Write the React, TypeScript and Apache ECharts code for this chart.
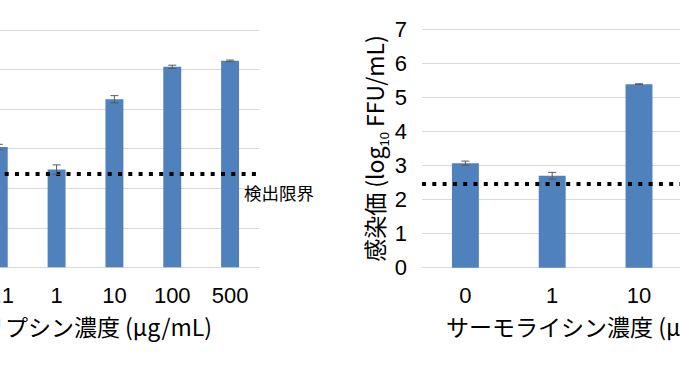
import React, { useEffect, useRef } from "react";
import * as echarts from "echarts";

// ---- data ----
const trypsinCategories = ["0", "0.1", "1", "10", "100", "500"];
const trypsinValues = [3.1, 3.04, 2.47, 4.25, 5.07, 5.22];
const trypsinErrors = [0.05, 0.07, 0.12, 0.09, 0.04, 0.02];
const trypsinLimit = 2.36;
const trypsinTitle = "トリプシン濃度 (μg/mL)";

const thermoCategories = ["0", "1", "10", "100"];
const thermoValues = [3.07, 2.7, 5.39, 6.0];
const thermoErrors = [0.06, 0.1, 0.01, 0.02];
const thermoLimit = 2.46;
const thermoTitle = "サーモライシン濃度 (μg/mL)";

const limitLabel = "検出限界";
const yAxisTitle = "{m|感染価 (log}{sub|10}{m| FFU/mL)}";

// ---- layout ----
const OFF = 120;
const CHART_W = 920;
const FONT = "'Liberation Sans', Arial, 'Noto Sans CJK JP', sans-serif";
const CJK = "'Noto Sans CJK JP', 'Liberation Sans', sans-serif";
const BAR = "#4f81bd";
const GRID_LINE = "#d9d9d9";

function errorSeries(idx: number, vals: number[], errs: number[]) {
  return {
    type: "custom",
    xAxisIndex: idx,
    yAxisIndex: idx,
    z: 10,
    silent: true,
    data: vals.map((v, i) => [i, v - errs[i], v + errs[i]]),
    encode: { x: 0, y: [1, 2] },
    renderItem: (params: any, api: any) => {
      const x = api.value(0);
      const lo = api.coord([x, api.value(1)]);
      const hi = api.coord([x, api.value(2)]);
      const hw = 4;
      const style = { stroke: "#595959", lineWidth: 1, fill: null };
      return {
        type: "group",
        children: [
          { type: "line", shape: { x1: lo[0], y1: hi[1], x2: lo[0], y2: lo[1] }, style },
          { type: "line", shape: { x1: lo[0] - hw, y1: hi[1], x2: lo[0] + hw, y2: hi[1] }, style },
          { type: "line", shape: { x1: lo[0] - hw, y1: lo[1], x2: lo[0] + hw, y2: lo[1] }, style },
        ],
      };
    },
  };
}

function limitLine(v: number) {
  return {
    silent: true,
    symbol: "none",
    label: { show: false },
    lineStyle: { color: "#000", width: 4, type: [4, 6.3] },
    data: [{ yAxis: v }],
  };
}

export default function App() {
  const ref = useRef<HTMLDivElement>(null);
  useEffect(() => {
    if (!ref.current) return;
    const chart = echarts.init(ref.current, undefined, { renderer: "svg" });
    const xAxisCommon = {
      type: "category",
      axisTick: { show: false },
      axisLine: { lineStyle: { color: GRID_LINE, width: 1 } },
      axisLabel: { color: "#000", fontSize: 22, fontFamily: FONT, margin: 17, interval: 0 },
      nameLocation: "middle",
      nameGap: 47,
      nameTextStyle: { color: "#000", fontSize: 23, fontFamily: CJK },
    };
    const yAxisCommon = {
      type: "value",
      min: 0,
      interval: 1,
      splitLine: { lineStyle: { color: GRID_LINE, width: 1 } },
      axisLine: { show: false },
      axisTick: { show: false },
    };
    chart.setOption({
      animation: false,
      backgroundColor: "#fff",
      grid: [
        { left: 32, top: 30, width: 347, height: 237.3 },
        { left: 542, top: 29.3, width: 347.2, height: 238.4 },
      ],
      xAxis: [
        { ...xAxisCommon, gridIndex: 0, data: trypsinCategories, name: trypsinTitle },
        { ...xAxisCommon, gridIndex: 1, data: thermoCategories, name: thermoTitle },
      ],
      yAxis: [
        { ...yAxisCommon, gridIndex: 0, max: 6, axisLabel: { show: false } },
        {
          ...yAxisCommon,
          gridIndex: 1,
          max: 7,
          axisLabel: { color: "#000", fontSize: 22, fontFamily: FONT, margin: 15 },
          name: yAxisTitle,
          nameLocation: "middle",
          nameGap: 29,
          nameRotate: 90,
          nameTextStyle: {
            color: "#000",
            fontSize: 23,
            fontFamily: CJK,
            rich: {
              m: { fontSize: 23, fontFamily: CJK, color: "#000", lineHeight: 28, verticalAlign: "top" },
              sub: { fontSize: 13, fontFamily: FONT, color: "#000", lineHeight: 12, verticalAlign: "bottom" },
            },
          },
        },
      ],
      series: [
        {
          type: "bar",
          xAxisIndex: 0,
          yAxisIndex: 0,
          data: trypsinValues,
          barWidth: "31%",
          itemStyle: { color: BAR },
          markLine: limitLine(trypsinLimit),
        },
        errorSeries(0, trypsinValues, trypsinErrors),
        {
          type: "bar",
          xAxisIndex: 1,
          yAxisIndex: 1,
          data: thermoValues,
          barWidth: "31%",
          itemStyle: { color: BAR },
          markLine: limitLine(thermoLimit),
        },
        errorSeries(1, thermoValues, thermoErrors),
      ],
    });
    const p = chart.convertToPixel({ gridIndex: 0 } as any, [trypsinCategories.length - 1, trypsinLimit]) as number[];
    chart.setOption({
      graphic: [
        {
          type: "text",
          x: p[0] + 14,
          y: p[1] + 18.5,
          style: {
            text: limitLabel,
            fill: "#000",
            font: `17.5px ${CJK}`,
            verticalAlign: "middle",
          },
        },
      ],
    });
    return () => chart.dispose();
  }, []);
  return (
    <div
      style={{
        position: "fixed",
        left: 0,
        top: 0,
        width: 680,
        height: 380,
        overflow: "hidden",
        background: "#fff",
      }}
    >
      <div ref={ref} style={{ position: "absolute", left: -OFF, top: 0, width: CHART_W, height: 380 }} />
    </div>
  );
}
